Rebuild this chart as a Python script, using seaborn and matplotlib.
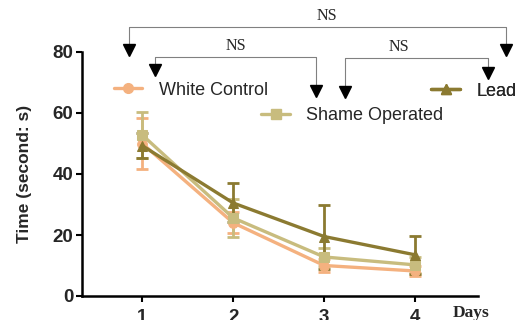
import matplotlib
matplotlib.use("Agg")
import matplotlib.pyplot as plt
import seaborn as sns
import pandas as pd
from matplotlib.lines import Line2D

days = [1, 2, 3, 4]
groups = ["White Control", "Shame Operated", "Lead"]
white_mean = [50.0, 24.0, 10.0, 8.2]
white_err = [8.5, 3.5, 2.0, 1.5]
shame_mean = [52.8, 25.6, 12.8, 10.2]
shame_err = [7.5, 6.3, 3.0, 2.5]
lead_mean = [49.3, 30.5, 19.5, 13.5]
lead_err = [4.0, 6.4, 10.5, 6.3]
colors = {"White Control": "#F4B17F", "Shame Operated": "#C8BC7E", "Lead": "#8B7A31"}
markers = {"White Control": "o", "Shame Operated": "s", "Lead": "^"}

df = pd.DataFrame({
    "Day": days * 3,
    "Time": white_mean + shame_mean + lead_mean,
    "Err": white_err + shame_err + lead_err,
    "Group": [g for g in groups for _ in days],
})

sns.set_theme(style="ticks")
plt.rcParams["font.family"] = ["Liberation Sans", "DejaVu Sans"]

fig = plt.figure(figsize=(5.2, 3.2), dpi=100)
ax = fig.add_axes([0.158, 0.075, 0.761, 0.7625])

for g in groups:
    sub = df[df.Group == g]
    ax.errorbar(sub.Day, sub.Time, yerr=sub.Err, fmt="none", ecolor=colors[g],
                elinewidth=2, capsize=4, capthick=2, zorder=2)
    sns.lineplot(data=sub, x="Day", y="Time", color=colors[g], marker=markers[g],
                 markersize=7, markeredgecolor=colors[g], linewidth=2.4, ax=ax,
                 errorbar=None, legend=False, zorder=3)

ax.set_xlim(0.34, 4.69)
ax.set_ylim(0, 80)
ax.set_xticks(days)
ax.set_yticks([0, 20, 40, 60, 80])
ax.set_xlabel("")
ax.set_ylabel("Time (second: s)", fontsize=12.5, fontweight="bold")
ax.yaxis.set_label_coords(-0.128, 0.5)
for lab in ax.get_xticklabels() + ax.get_yticklabels():
    lab.set_fontweight("bold")
ax.tick_params(axis="both", labelsize=13.5, width=1.5, length=4.5, color="black")
ax.tick_params(axis="x", pad=5)
ax.tick_params(axis="y", pad=2)
for s in ["left", "bottom"]:
    ax.spines[s].set_linewidth(1.8)
    ax.spines[s].set_color("black")
sns.despine(ax=ax)

ax.text(0.937, -0.036, "Days", transform=ax.transAxes, fontsize=12.5, fontweight="bold",
        family=["Liberation Serif"], ha="left", va="top")

# legend entries placed separately
def leg(g, anchor):
    h = Line2D([], [], color=colors[g], marker=markers[g], markersize=7, linewidth=2.4)
    l = ax.legend([h], [g], loc="center left", bbox_to_anchor=anchor, frameon=False,
                  fontsize=13, handlelength=1.6, handletextpad=0.9, borderaxespad=0,
                  borderpad=0.4)
    ax.add_artist(l)

leg("White Control", (0.061, 0.844))
leg("Shame Operated", (0.434, 0.738))
leg("Lead", (0.864, 0.840))

# significance brackets
def bracket(x1, y1, x2, y2, yh, xt):
    ax.plot([x1, x1, x2, x2], [y1 + 1.5, yh, yh, y2 + 1.5], color="#808080",
            linewidth=0.8, clip_on=False)
    ax.plot([x1, x2], [y1 + 1.7, y2 + 1.7], linestyle="none", marker="v",
            markersize=8, color="black", clip_on=False)
    ax.text(xt, yh + 1.0, "NS", ha="center", va="bottom", fontsize=11.5,
            family=["Liberation Serif"], clip_on=False)

bracket(0.857, 79.0, 5.0, 79.0, 88.2, 3.03)
bracket(1.143, 72.5, 2.91, 65.6, 78.4, 2.03)
bracket(3.23, 65.2, 4.80, 71.5, 78.0, 3.82)

fig.savefig("out.png", dpi=100)
